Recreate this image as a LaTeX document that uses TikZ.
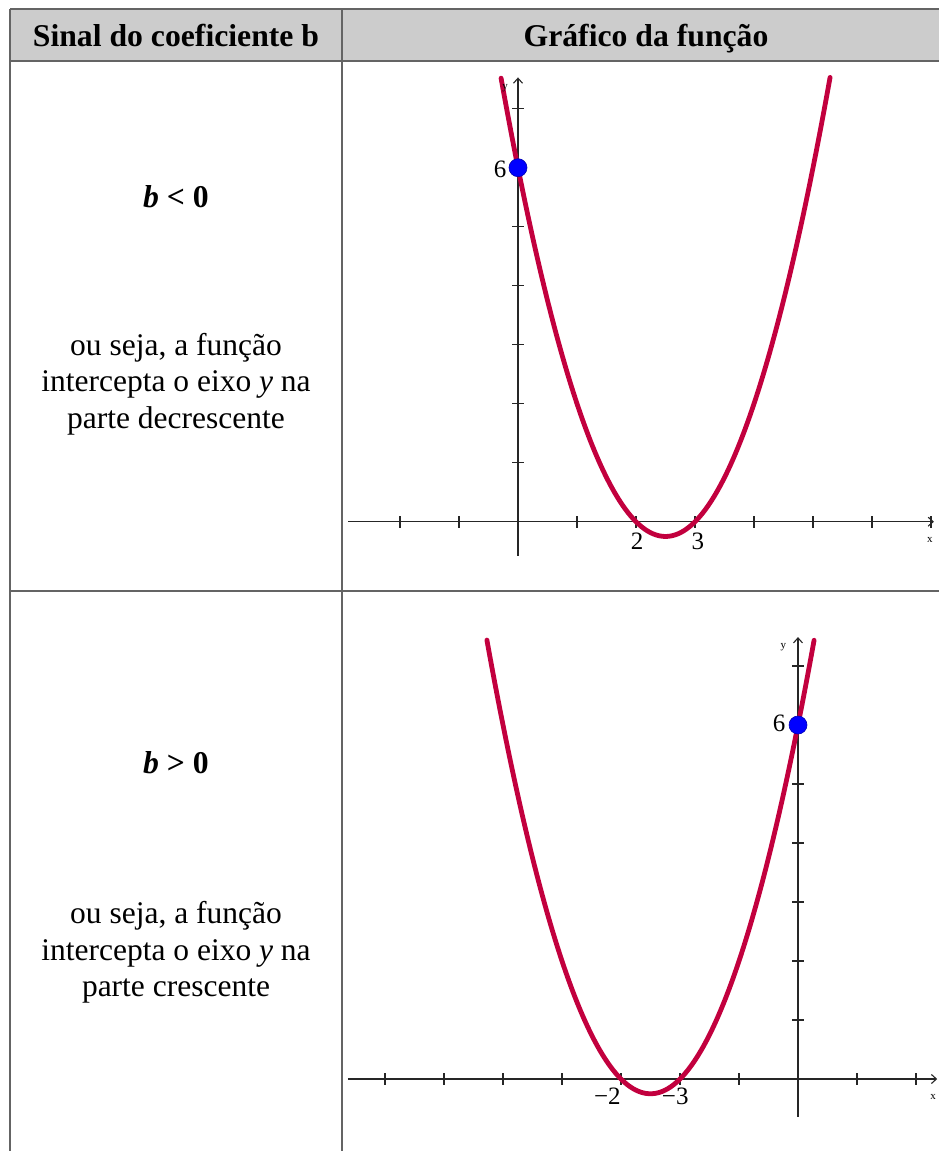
\documentclass[tikz,border=0pt]{standalone}
\usepackage{fontspec}
\setmainfont{Liberation Serif}
\usetikzlibrary{arrows.meta}
\definecolor{curvecol}{RGB}{194,0,62}
\definecolor{dotcol}{RGB}{0,0,255}
\definecolor{hdrgray}{RGB}{204,204,204}
\definecolor{gridcol}{RGB}{100,100,100}
\begin{document}
\begin{tikzpicture}[x=1pt,y=-1pt,
  tbl/.style={draw=gridcol, line width=1.5pt},
  hdrtext/.style={font=\fontsize{31.7}{34}\selectfont\bfseries, anchor=base, inner sep=0pt},
  condtext/.style={font=\fontsize{31.7}{34}\selectfont\bfseries, anchor=base, inner sep=0pt},
  bodytext/.style={font=\fontsize{31.5}{36.5}\selectfont, align=center, inner sep=0pt},
  axisline/.style={draw=black!85, line width=1.1pt, -{Straight Barb[length=5pt,width=9pt]}},
  ticklin/.style={draw=black!85, line width=1.1pt},
  parab/.style={draw=curvecol, line width=4.8pt, line cap=round},
  ptdot/.style={circle, fill=dotcol, draw=blue!70!black, line width=0.6pt, minimum size=18pt, inner sep=0pt},
  numlbl/.style={font=\fontsize{25}{25}\selectfont, inner sep=1pt},
  axlbl/.style={font=\fontsize{11}{11}\selectfont, inner sep=0pt}
]
\useasboundingbox (0,0) rectangle (938,1151);
% table
\fill[hdrgray] (10,9) rectangle (950,61);
\draw[tbl] (10,9) -- (950,9);
\draw[tbl] (10,61) -- (950,61);
\draw[tbl] (10,591) -- (950,591);
\draw[tbl] (10,9) -- (10,1160);
\draw[tbl] (342,9) -- (342,1160);
\node[hdrtext] (h1) at (176,46) {Sinal do coeficiente b};
\node[hdrtext] (h2) at (646,46) {Gráfico da função};
% left column
\node[condtext] (c1) at (176,207) {\textit{b} < 0};
\node[bodytext] (t1) at (176,384) {ou seja, a função\\intercepta o eixo \textit{y} na\\parte decrescente};
\node[condtext] (c2) at (176,773) {\textit{b} > 0};
\node[bodytext] (t2) at (176,952.5) {ou seja, a função\\intercepta o eixo \textit{y} na\\parte crescente};
% graph 1
\begin{scope}[shift={(518,521.7)}, x=59pt, y=59pt]
  \draw[axisline] (-2.88,0) -- (7.05,0);
  \draw[axisline] (0,-0.58) -- (0,7.53);
  \foreach \i in {-2,-1,1,2,3,4,5,6,7} \draw[ticklin] (\i,-0.1) -- (\i,0.1);
  \foreach \j in {1,...,7} \draw[ticklin] (-0.1,\j) -- (0.1,\j);
  \draw[parab] plot[domain=-0.287:5.29, samples=120, smooth] (\x,{\x*\x-5*\x+6});
  \node[ptdot] (d1) at (0,6) {};
  \node[numlbl] (a6) at (-0.305,5.98) {6};
  \node[numlbl] (a2) at (2.02,-0.33) {2};
  \node[numlbl] (a3) at (3.05,-0.33) {3};
  \node[axlbl] (ay) at (-0.22,7.35) {y};
  \node[axlbl] (ax) at (6.98,-0.31) {x};
\end{scope}
% graph 2
\begin{scope}[shift={(798,1079)}, x=59pt, y=59pt]
  \draw[axisline] (-7.63,0) -- (2.36,0);
  \draw[axisline] (0,-0.64) -- (0,7.49);
  \foreach \i in {-7,-6,-5,-4,-3,-2,-1,1,2} \draw[ticklin] (\i,-0.1) -- (\i,0.1);
  \foreach \j in {1,...,7} \draw[ticklin] (-0.1,\j) -- (0.1,\j);
  \draw[parab] plot[domain=-5.273:0.273, samples=120, smooth] (\x,{\x*\x+5*\x+6});
  \node[ptdot] (d2) at (0,6) {};
  \node[numlbl] (b6) at (-0.32,6.02) {6};
  \node[numlbl] (bm2) at (-3.23,-0.3) {−2};
  \node[numlbl] (bm3) at (-2.08,-0.3) {−3};
  \node[axlbl] (by) at (-0.25,7.32) {y};
  \node[axlbl] (bx) at (2.29,-0.31) {x};
\end{scope}
\end{tikzpicture}
\end{document}
